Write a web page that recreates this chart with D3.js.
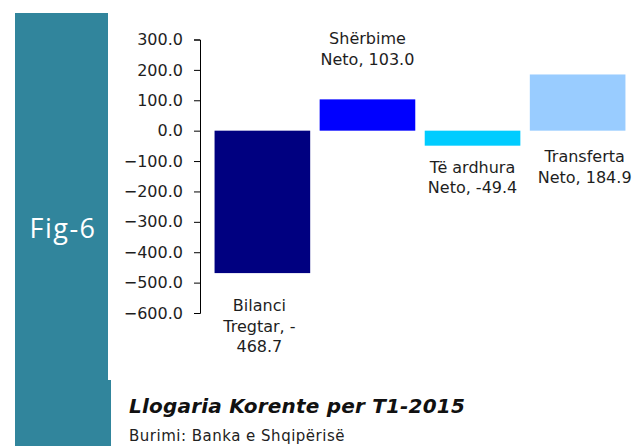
<!DOCTYPE html>
<html lang="sq">
<head>
    <meta charset="UTF-8">
    <title>Llogaria Korente per T1-2015</title>
    <script src="https://d3js.org/d3.v7.min.js"></script>
    <style>
        body { margin: 0; background: #fff; }
        text { font-family: "DejaVu Sans", sans-serif; fill: #1e1e1e; }
        .axis text { font-size: 16px; fill: #1e1e1e; }
        .axis path, .axis line { stroke: #000; }
    </style>
</head>
<body>
<svg width="637" height="446"></svg>

<script>
    // chart data
    const categories = ["Bilanci Tregtar", "Shërbime Neto", "Të ardhura Neto", "Transferta Neto"];
    const values = [-468.7, 103.0, -49.4, 184.9];
    const labelLines = [
        ["Bilanci", "Tregtar, -", "468.7"],
        ["Shërbime", "Neto, 103.0"],
        ["Të ardhura", "Neto, -49.4"],
        ["Transferta", "Neto, 184.9"]
    ];
    const barColors = ["#000080", "#0000ff", "#00ccff", "#99ccff"];
    const yTicks = [300, 200, 100, 0, -100, -200, -300, -400, -500, -600];

    // label placement (x shift, first baseline relative to bar end)
    const labelDx = [-3, 0, 0, 7];
    const labelDy = [38, -55, 27, 88];

    const svg = d3.select("svg");

    // side panel
    svg.append("rect").attr("x", 15).attr("y", 13).attr("width", 93).attr("height", 368).attr("fill", "#31859c");
    svg.append("rect").attr("x", 15).attr("y", 380).attr("width", 96).attr("height", 66).attr("fill", "#31859c");
    svg.append("text")
        .attr("x", 63).attr("y", 238)
        .attr("text-anchor", "middle")
        .style("font-family", "'Open Sans', sans-serif")
        .style("font-size", "27px")
        .style("letter-spacing", "1.5px")
        .style("fill", "#fff")
        .text("Fig-6");

    // scales
    const y = d3.scaleLinear().domain([-600, 300]).range([313, 39.5]);
    const x = d3.scaleBand().domain(categories).range([203, 637])
        .paddingInner(0.09).paddingOuter(0.11);

    // bars
    svg.append("g").selectAll("rect")
        .data(categories)
        .join("rect")
        .attr("x", d => x(d))
        .attr("width", x.bandwidth())
        .attr("y", (d, i) => y(Math.max(0, values[i])))
        .attr("height", (d, i) => Math.abs(y(values[i]) - y(0)))
        .attr("fill", (d, i) => barColors[i]);

    // y axis
    svg.append("g")
        .attr("class", "axis")
        .attr("transform", "translate(200,0)")
        .call(d3.axisLeft(y).tickValues(yTicks).tickFormat(d3.format(".1f")).tickSize(6).tickPadding(11))
        .call(g => g.selectAll("text").style("font-family", "'DejaVu Sans', sans-serif"));

    // data labels
    const labels = svg.append("g").selectAll("text")
        .data(categories)
        .join("text")
        .attr("text-anchor", "middle")
        .style("font-size", "16px")
        .attr("transform", (d, i) => {
            const cx = x(d) + x.bandwidth() / 2 + labelDx[i];
            return `translate(${cx},${y(values[i]) + labelDy[i]})`;
        });
    labels.selectAll("tspan")
        .data((d, i) => labelLines[i])
        .join("tspan")
        .attr("x", 0)
        .attr("dy", (d, j) => j === 0 ? 0 : 20.5)
        .text(d => d);

    // title and source
    svg.append("text")
        .attr("x", 129).attr("y", 413)
        .style("font-size", "20px")
        .style("font-style", "italic")
        .style("font-weight", "bold")
        .style("letter-spacing", "0.2px")
        .style("fill", "#111")
        .text("Llogaria Korente per T1-2015");
    svg.append("text")
        .attr("x", 129).attr("y", 441)
        .style("font-size", "15px")
        .style("letter-spacing", "0.5px")
        .style("fill", "#222")
        .text("Burimi: Banka e Shqipërisë");
</script>
</body>
</html>
